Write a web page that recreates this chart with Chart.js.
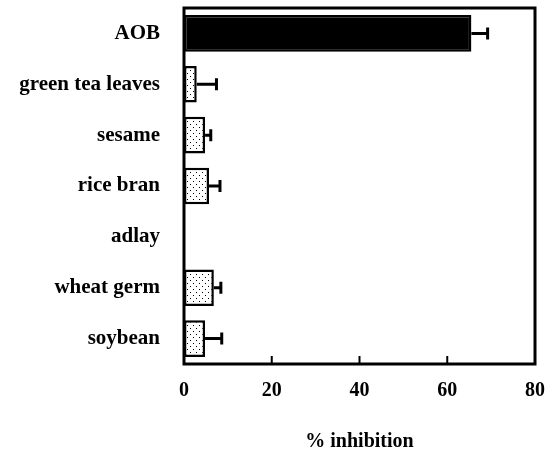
<!DOCTYPE html>
<html>
<head>
<meta charset="utf-8">
<script src="https://cdn.jsdelivr.net/npm/chart.js@4"></script>
<style>
  html, body { margin: 0; padding: 0; background: #fff; }
  #wrap { width: 547px; height: 451px; }
</style>
</head>
<body>
<div id="wrap"><canvas id="chart" width="547" height="451"></canvas></div>
<script>
// data
const categories = ['AOB', 'green tea leaves', 'sesame', 'rice bran', 'adlay', 'wheat germ', 'soybean'];
const inhibition = [65.5, 2.9, 4.8, 5.7, 0, 6.8, 4.8];
const errors = [3.7, 4.5, 1.3, 2.5, 0, 1.6, 3.8];
const xTicks = [0, 20, 40, 60, 80];

const FONT = '"Liberation Serif", "Times New Roman", serif';

// dotted fill like the printed figure
function dotPattern() {
    const c = document.createElement('canvas');
    c.width = 6;
    c.height = 6;
    const g = c.getContext('2d');
    g.fillStyle = '#fff';
    g.fillRect(0, 0, 6, 6);
    g.fillStyle = '#000';
    g.fillRect(1, 1, 1, 1);
    g.fillRect(4, 4, 1, 1);
    return g.createPattern(c, 'repeat');
}

// keep the layout from adding label overflow padding
function noPadding(scale) {
    scale.paddingTop = 0;
    scale.paddingBottom = 0;
    scale.paddingLeft = 0;
    scale.paddingRight = 0;
}

const frame = {
    id: 'frame',
    afterDatasetsDraw(chart) {
        const ctx = chart.ctx;
        const area = chart.chartArea;
        const x = chart.scales.x;
        const y = chart.scales.y;
        ctx.save();
        ctx.strokeStyle = '#000';

        // one-sided error bars
        ctx.lineWidth = 3;
        inhibition.forEach((v, i) => {
            if (!errors[i]) return;
            const yc = y.getPixelForValue(i);
            const x0 = x.getPixelForValue(v);
            const x1 = x.getPixelForValue(v + errors[i]);
            ctx.beginPath();
            ctx.moveTo(x0, yc);
            ctx.lineTo(x1, yc);
            ctx.moveTo(x1, yc - 6);
            ctx.lineTo(x1, yc + 6);
            ctx.stroke();
        });

        // inward ticks on the bottom axis
        ctx.lineWidth = 2;
        xTicks.slice(1, -1).forEach((t) => {
            const px = x.getPixelForValue(t);
            ctx.beginPath();
            ctx.moveTo(px, area.bottom);
            ctx.lineTo(px, area.bottom - 8);
            ctx.stroke();
        });

        // box round the plot
        ctx.lineWidth = 3;
        ctx.strokeRect(area.left, area.top, area.right - area.left, area.bottom - area.top);
        ctx.restore();
    },
};

const ctx = document.getElementById('chart');
new Chart(ctx, {
    type: 'bar',
    data: {
        labels: categories,
        datasets: [
            {
                data: inhibition,
                backgroundColor: (c) => (c.dataIndex === 0 ? '#000' : dotPattern()),
                borderColor: '#000',
                borderWidth: (c) => (inhibition[c.dataIndex] ? 2.5 : 0),
                borderSkipped: false,
                barPercentage: 0.9,
                categoryPercentage: 0.8,
            },
        ],
    },
    options: {
        responsive: false,
        animation: false,
        indexAxis: 'y',
        layout: { padding: { top: 8, right: 12, left: 0, bottom: 0 } },
        plugins: {
            legend: { display: false },
            tooltip: { enabled: false },
        },
        scales: {
            x: {
                min: 0,
                max: 80,
                afterBuildTicks: (scale) => {
                    scale.ticks = xTicks.map((v) => ({ value: v }));
                },
                afterFit: (scale) => {
                    scale.height = 87;
                    noPadding(scale);
                },
                grid: { display: false, drawTicks: false },
                border: { display: false },
                ticks: {
                    color: '#000',
                    padding: 15,
                    font: { family: FONT, size: 20, weight: 'bold' },
                },
                title: {
                    display: true,
                    text: '% inhibition',
                    color: '#000',
                    padding: { top: 0, bottom: -3 },
                    font: { family: FONT, size: 20, weight: 'bold' },
                },
            },
            y: {
                afterFit: (scale) => {
                    scale.width = 184;
                    noPadding(scale);
                },
                grid: { display: false, drawTicks: false },
                border: { display: false },
                ticks: {
                    color: '#000',
                    padding: 24,
                    font: { family: FONT, size: 21, weight: 'bold' },
                },
            },
        },
    },
    plugins: [frame],
});
</script>
</body>
</html>
